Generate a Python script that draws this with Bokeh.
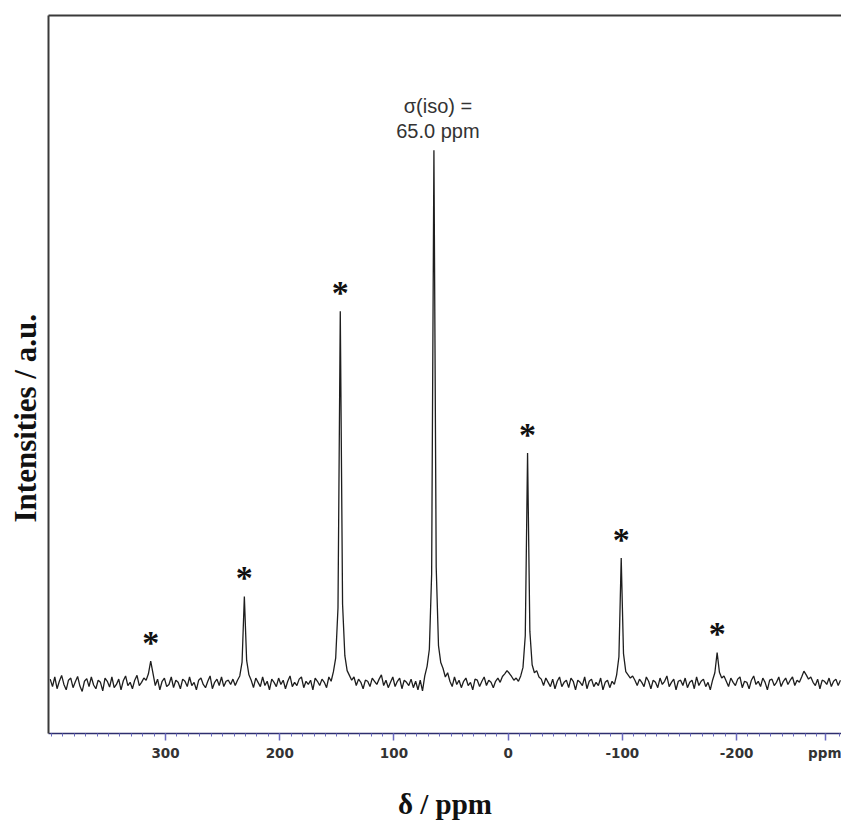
import numpy as np
from bokeh.plotting import figure
from bokeh.models import Range1d, LinearAxis, FixedTicker, Title
from bokeh.core.properties import value
from bokeh.embed import file_html
from bokeh.resources import INLINE

# ---------------- data ----------------
ppm_start = 401.0      # first sampled chemical shift
ppm_step = -2.0        # spacing of the sampled points
intensity = [
    0.8, -0.6, 1.2, -1.0, 0.4, 1.5, -0.2, -1.2, 0.6, 1.0, -0.8, 0.3, 1.3, -0.5, -1.5, 0.4, 0.9, -0.6, 1.2, -0.3,
    -1.0, 0.6, 0.2, -1.4, 1.0, 0.4, -0.7, 1.2, -0.8, -0.2, 0.8, -1.2, 0.5, 1.4, -0.4, 0.2, -1.0, 0.6, 1.5, -0.4,
    0.2, 1.0, 0.6, 1.8, 4.2, 1.9, -0.4, 0.8, -1.2, 0.4, 1.0, -0.6, -0.2, 1.2, -0.8, 0.6, 0.2, -1.0, 0.8, 0.4,
    -0.6, 1.2, -0.4, 0.2, -1.2, 0.6, 1.0, -0.2, -0.8, 0.4, 1.4, -1.0, 0.2, 0.8, -0.4, 1.2, -0.6, 0.4, 0.6, -0.2,
    0.8, -0.4, 0.6, 1.4, 4.0, 16.3, 4.3, 1.6, 0.6, -0.8, 1.0, 0.2, -0.6, 1.2, -0.4, 0.4, -1.2, 0.8, 0.2, -0.6,
    1.0, -0.2, 0.6, -1.0, 0.4, 1.4, -0.6, 0.2, -0.4, 0.8, 1.2, -0.8, 0.4, -0.2, 0.6, -1.2, 1.0, 0.4, -0.4, 0.8,
    0.2, -0.8, 1.2, 0.4, 2.2, 4.8, 14.2, 69.8, 14.9, 5.2, 2.4, 1.5, 0.6, 1.2, -0.4, 0.8, 0.2, -1.0, 0.6, 0.4,
    -0.6, 1.0, 0.4, -0.2, 0.8, 1.6, -0.4, 0.6, -0.8, 0.2, 1.2, -0.6, 0.4, 1.0, -1.0, 0.6, 0.2, -0.4, 0.8, -0.8,
    0.4, -1.2, 0.6, -1.4, 1.4, 3.2, 6.4, 20.5, 100.0, 21.8, 7.1, 3.9, 2.8, 1.2, 2.0, 0.4, -0.6, 1.2, -0.2, 0.6,
    -0.8, 0.4, 1.0, -0.4, 0.2, -1.2, 0.8, 0.6, -0.6, 0.4, 1.2, -0.4, 0.6, 0.2, -0.8, 0.4, 1.0, 0.2, 1.3, 1.8,
    2.4, 1.9, 1.3, 0.6, 1.0, 0.4, 1.4, 3.0, 9.0, 43.2, 9.8, 3.5, 2.0, 2.4, 1.2, 0.8, -0.4, 1.0, 0.2, -0.6,
    0.8, -1.0, 0.4, 1.2, -0.6, 0.2, 0.6, -0.8, 1.0, 0.4, -1.2, 0.6, 0.2, -0.4, 1.2, -1.0, 0.4, 0.8, -0.6, 0.2,
    -0.4, 1.0, -1.2, 0.2, 0.6, -0.8, 0.4, -0.2, 1.6, 5.0, 23.5, 5.6, 2.2, 1.6, 1.0, 1.4, 0.6, -0.4, 0.8, 0.2,
    -0.6, 1.2, 0.4, -1.0, 0.6, 0.2, -0.8, 1.0, -0.2, 0.4, 1.4, -0.6, 0.2, 0.8, -1.2, 0.4, 0.6, -0.4, 1.0, -0.8,
    0.2, 0.6, -1.0, 1.2, -0.4, 0.4, 0.8, -0.6, 0.2, -1.2, 0.6, 2.0, 5.8, 2.1, 1.0, 1.4, 0.4, -0.6, 1.0, 0.2,
    -0.4, 0.8, 1.2, -0.8, 0.4, 0.2, -1.0, 0.6, 1.4, -0.2, 0.4, -0.6, 1.0, 0.2, -1.2, 0.6, 0.8, -0.4, 0.2, 1.2,
    -0.6, 0.4, 1.0, -0.2, 0.6, 1.2, -0.4, 0.6, 0.2, 1.2, 2.3, 1.6, 0.8, 1.2, 0.2, -0.4, 0.8, -1.0, 0.6, 0.4,
    -0.2, 1.0, -0.6, 0.4, 0.8, -0.4, 0.6,
]
sideband_ppm = [313, 231, 147, -17, -99, -183]   # spinning sidebands (marked *)
iso_ppm = 65.0                                   # isotropic line
iso_label = ["σ(iso) =", "65.0 ppm"]
x_ticks = [300, 200, 100, 0, -100, -200]
x_tick_labels = ["300", "200", "100", "0", "-100", "-200"]
unit_tick = -278
unit_label = "ppm"
x_minor_ticks = [t for t in range(400, -300, -10) if t != -280]
x_label = "δ / ppm"
y_label = "Intensities / a.u."

# ---------------- derived ----------------
ppm = ppm_start + ppm_step * np.arange(len(intensity))
def height_at(shift):
    return intensity[int(round((ppm_start - shift) / -ppm_step))]
sideband_h = [height_at(s) for s in sideband_ppm]
iso_h = height_at(iso_ppm)

overrides = {t: s for t, s in zip(x_ticks, x_tick_labels)}
overrides[unit_tick] = unit_label

# ---------------- figure ----------------
p = figure(width=841, height=822,
           x_range=Range1d(402.5, -291.9), y_range=Range1d(-9.4, 125.3),
           output_backend="svg", toolbar_location=None,
           x_axis_location=None, y_axis_location=None,
           min_border_left=48, min_border_right=0, min_border_top=15, min_border_bottom=89)
p.outline_line_color = None
p.grid.visible = False
p.background_fill_color = "white"
p.border_fill_color = "white"

xaxis = LinearAxis(ticker=FixedTicker(ticks=x_ticks + [unit_tick], minor_ticks=x_minor_ticks),
                   major_label_overrides=overrides,
                   axis_line_color="#2e2e6e", axis_line_width=1.5,
                   major_tick_line_color="#6a6ac0", major_tick_line_width=1.5,
                   major_tick_in=0, major_tick_out=7,
                   minor_tick_line_color="#6a6ac0", minor_tick_line_width=1,
                   minor_tick_in=0, minor_tick_out=3,
                   major_label_text_font="DejaVu Sans", major_label_text_font_style="bold",
                   major_label_text_font_size="13.5px", major_label_text_color="#333333",
                   major_label_standoff=4,
                   axis_label=x_label, axis_label_text_font="Liberation Serif",
                   axis_label_text_font_style="bold", axis_label_text_font_size="29px",
                   axis_label_text_color="#111111", axis_label_standoff=24)
p.add_layout(xaxis, "below")

def frame_axis():
    return LinearAxis(ticker=FixedTicker(ticks=[]), axis_line_color="#3a3a3a", axis_line_width=2,
                      major_tick_line_color=None, minor_tick_line_color=None,
                      major_label_text_font_size="0px")
p.add_layout(frame_axis(), "left")
p.add_layout(frame_axis(), "above")

# y-axis title
p.add_layout(Title(text=y_label, align="left", offset=211, standoff=11,
                   text_font="Liberation Serif", text_font_style="bold", text_font_size="31px",
                   text_color="#111111"), "left")

# spectrum
p.line(ppm, intensity, line_color="#1e1e1e", line_width=1.3)

# asterisks over spinning sidebands
p.text(x=sideband_ppm, y=sideband_h, text=["*"] * len(sideband_ppm),
       text_font=value("Liberation Serif"), text_font_style="bold", text_font_size="34px",
       text_align="center", text_baseline="middle", y_offset=-19, text_color="#111111")

# isotropic annotation
p.text(x=[iso_ppm, iso_ppm], y=[iso_h, iso_h], text=iso_label,
       text_font=value("Liberation Sans"), text_font_size="20px", text_color="#333333",
       text_align="center", text_baseline="alphabetic", x_offset=4, y_offset=[-44, -19])

open("out.html", "w").write(file_html(p, INLINE))
